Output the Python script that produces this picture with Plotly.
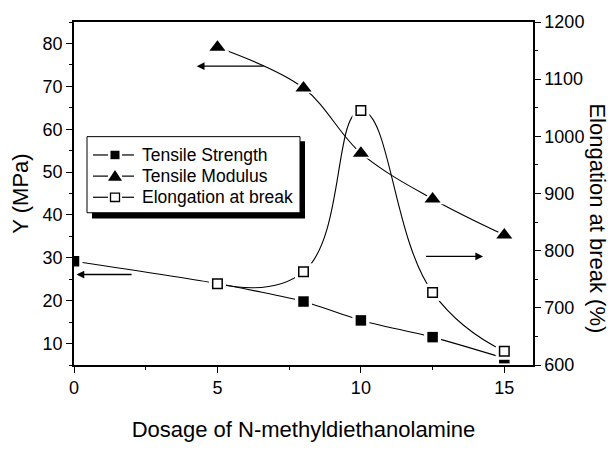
import plotly.graph_objects as go

# ---- data -------------------------------------------------------------
dosage_ts = [0, 5, 8, 10, 12.5, 15]
tensile_strength = [29.2, 24.0, 19.8, 15.4, 11.5, 6.6]          # MPa, left axis

dosage = [5, 8, 10, 12.5, 15]
tensile_modulus = [79.1, 69.6, 54.4, 43.7, 35.3]                 # MPa, left axis
elongation = [742, 763, 1045, 727, 624]                          # %, right axis

x_ticks = [0, 5, 10, 15]
y_ticks = [10, 20, 30, 40, 50, 60, 70, 80]
y2_ticks = [600, 700, 800, 900, 1000, 1100, 1200]

legend_names = ["Tensile Strength", "Tensile Modulus", "Elongation at break"]

# arrows pointing each curve to its axis: (tail x, head x, y, y-axis)
axis_arrows = [
    (6.66, 4.28, 74.7, "y"),
    (2.06, 0.09, 26.1, "y"),
    (12.22, 14.26, 790, "y2"),
]

# ---- layout geometry --------------------------------------------------
W, H = 616, 450
ML, MR, MT, MB = 74, 83, 20, 65
PW, PH = W - ML - MR, H - MT - MB
FONT = "Liberation Sans, Arial, sans-serif"


def px_x(px):
    return (px - ML) / PW


def px_y(py):
    return (H - MB - py) / PH


fig = go.Figure()

# lines (splines like the original software)
fig.add_trace(go.Scatter(x=dosage_ts, y=tensile_strength, mode="lines",
                         line=dict(color="black", width=1.1, shape="spline", smoothing=0.6),
                         showlegend=False, hoverinfo="skip"))
fig.add_trace(go.Scatter(x=dosage, y=tensile_modulus, mode="lines",
                         line=dict(color="black", width=1.1, shape="spline", smoothing=1.0),
                         showlegend=False, hoverinfo="skip"))
fig.add_trace(go.Scatter(x=dosage, y=elongation, mode="lines", yaxis="y2",
                         line=dict(color="black", width=1.1, shape="spline", smoothing=1.3),
                         showlegend=False, hoverinfo="skip"))

# white halos that open a small gap in the lines around every symbol
halo = dict(color="white", line=dict(width=0))
fig.add_trace(go.Scatter(x=dosage_ts, y=tensile_strength, mode="markers",
                         marker=dict(symbol="square", size=17, **halo),
                         showlegend=False, hoverinfo="skip"))
fig.add_trace(go.Scatter(x=dosage, y=tensile_modulus, mode="markers",
                         marker=dict(symbol="triangle-up", size=21, **halo),
                         showlegend=False, hoverinfo="skip"))
fig.add_trace(go.Scatter(x=dosage, y=elongation, mode="markers", yaxis="y2",
                         marker=dict(symbol="square", size=17, **halo),
                         showlegend=False, hoverinfo="skip"))

# symbols
fig.add_trace(go.Scatter(x=dosage_ts, y=tensile_strength, mode="markers",
                         name=legend_names[0],
                         marker=dict(symbol="square", size=10.5, color="black",
                                     line=dict(width=0)),
                         showlegend=False))
fig.add_trace(go.Scatter(x=dosage, y=tensile_modulus, mode="markers",
                         name=legend_names[1],
                         marker=dict(symbol="triangle-up", size=14, color="black",
                                     line=dict(width=0)),
                         showlegend=False))
fig.add_trace(go.Scatter(x=dosage, y=elongation, mode="markers", yaxis="y2",
                         name=legend_names[2],
                         marker=dict(symbol="square", size=9.5, color="white",
                                     line=dict(width=1.5, color="black")),
                         showlegend=False))

# ---- arrows -------------------------------------------------------------
annotations = []
for tail, head, yv, yref in axis_arrows:
    annotations.append(dict(x=head, y=yv, ax=tail, ay=yv, xref="x", yref=yref,
                            axref="x", ayref=yref, text="", showarrow=True,
                            arrowhead=2, arrowsize=1.1, arrowwidth=1.4,
                            arrowcolor="black", standoff=0))

# right axis title, reading top to bottom
annotations.append(dict(x=px_x(598), y=px_y(229), xref="paper", yref="paper",
                        text="Elongation at break (%)", textangle=90,
                        showarrow=False, xanchor="center", yanchor="middle",
                        font=dict(family=FONT, size=22, color="black")))

# ---- framed legend with drop shadow ------------------------------------
shapes = []
box = (87, 142, 300, 223)          # left, top, right, bottom (px)
sh = 5
shapes.append(dict(type="rect", xref="paper", yref="paper", layer="above",
                   x0=px_x(box[0] + sh), x1=px_x(box[2] + sh),
                   y0=px_y(box[3] + sh + 1), y1=px_y(box[1] + sh),
                   fillcolor="black", line=dict(width=0)))
shapes.append(dict(type="rect", xref="paper", yref="paper", layer="above",
                   x0=px_x(box[0]), x1=px_x(box[2]),
                   y0=px_y(box[3]), y1=px_y(box[1]),
                   fillcolor="white", line=dict(color="black", width=1)))

rows = [161.5, 184, 206.5]
for i, (name, ry) in enumerate(zip(legend_names, rows)):
    for a, b in ((93, 108), (122, 134)):
        shapes.append(dict(type="line", xref="paper", yref="paper", layer="above",
                           x0=px_x(a), x1=px_x(b), y0=px_y(ry), y1=px_y(ry),
                           line=dict(color="black", width=1.2)))
    cx = 115
    if i == 0:
        shapes.append(dict(type="rect", xref="paper", yref="paper", layer="above",
                           x0=px_x(cx - 4.5), x1=px_x(cx + 4.5),
                           y0=px_y(ry + 4.5), y1=px_y(ry - 4.5),
                           fillcolor="black", line=dict(width=0)))
    elif i == 1:
        path = "M {} {} L {} {} L {} {} Z".format(
            px_x(cx - 7), px_y(ry + 5), px_x(cx + 7), px_y(ry + 5),
            px_x(cx), px_y(ry - 6.5))
        shapes.append(dict(type="path", xref="paper", yref="paper", layer="above",
                           path=path, fillcolor="black", line=dict(width=0)))
    else:
        shapes.append(dict(type="rect", xref="paper", yref="paper", layer="above",
                           x0=px_x(cx - 4.5), x1=px_x(cx + 4.5),
                           y0=px_y(ry + 4.5), y1=px_y(ry - 4.5),
                           fillcolor="white", line=dict(color="black", width=1.3)))
    annotations.append(dict(x=px_x(140), y=px_y(ry), xref="paper", yref="paper",
                            text=name, showarrow=False, xanchor="left",
                            yanchor="middle",
                            font=dict(family=FONT, size=17.5, color="black")))

axis_common = dict(showline=True, linecolor="black", linewidth=1.5,
                   ticks="outside", ticklen=6, tickwidth=1.3, tickcolor="black",
                   showgrid=False, zeroline=False,
                   tickfont=dict(family=FONT, size=18, color="black"))

fig.update_layout(
    width=W, height=H,
    margin=dict(l=ML, r=MR, t=MT, b=MB, pad=0),
    paper_bgcolor="white", plot_bgcolor="white",
    showlegend=False,
    xaxis=dict(range=[0, 16], tickvals=x_ticks, mirror=True,
               minor=dict(ticks="outside", ticklen=3.5, tickwidth=1.2,
                          tickcolor="black", dtick=2.5, tick0=0),
               title=dict(text="Dosage of N-methyldiethanolamine", standoff=24,
                          font=dict(family=FONT, size=22, color="black")),
               **axis_common),
    yaxis=dict(range=[5, 85], tickvals=y_ticks,
               minor=dict(ticks="outside", ticklen=3.5, tickwidth=1.2,
                          tickcolor="black", dtick=5, tick0=0),
               title=dict(text="Y (MPa)", standoff=8,
                          font=dict(family=FONT, size=22, color="black")),
               **axis_common),
    yaxis2=dict(range=[600, 1200], tickvals=y2_ticks, overlaying="y",
                side="right",
                minor=dict(ticks="outside", ticklen=3.5, tickwidth=1.2,
                           tickcolor="black", dtick=50, tick0=0),
                **axis_common),
    annotations=annotations,
    shapes=shapes,
)

fig.write_html("out.html")
